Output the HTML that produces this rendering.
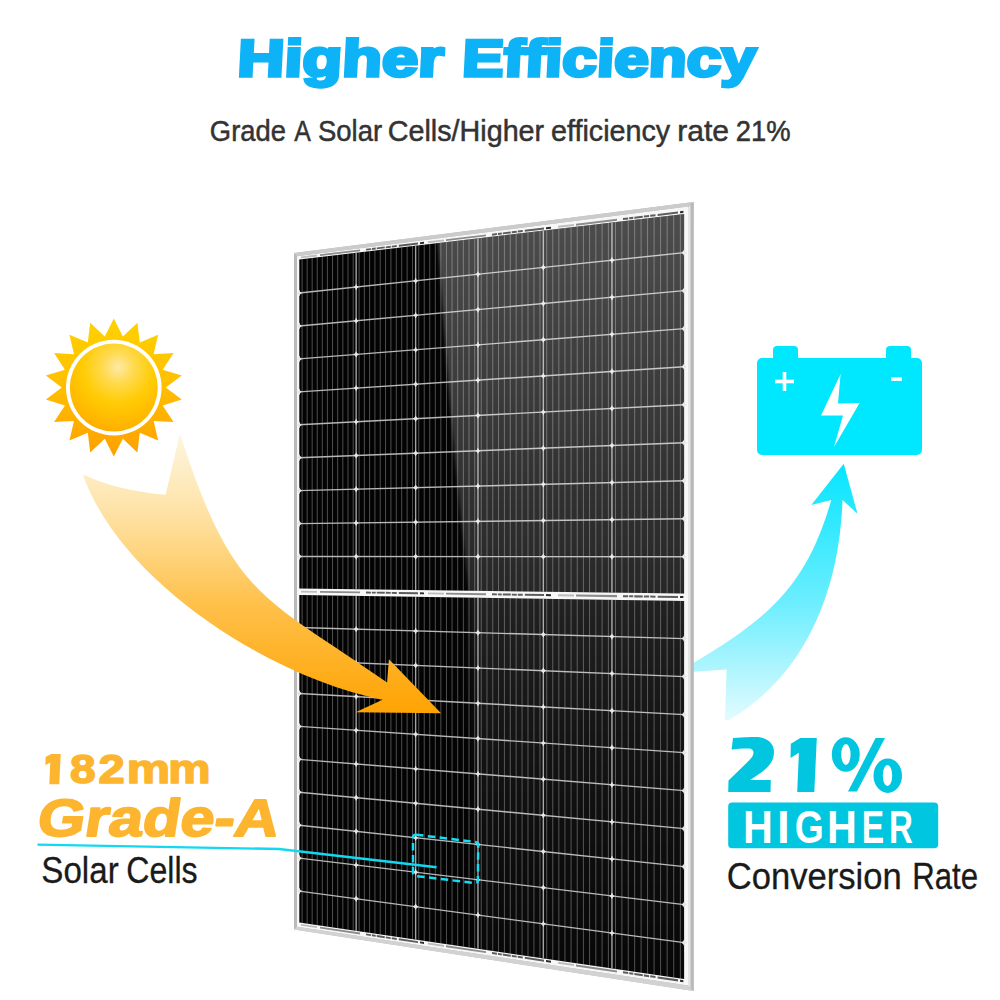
<!DOCTYPE html>
<html><head><meta charset="utf-8">
<style>
html,body{margin:0;padding:0;background:#fff;width:1000px;height:1000px;overflow:hidden}
svg{display:block}
text{font-family:"Liberation Sans",sans-serif}
</style></head><body>
<svg width="1000" height="1000" viewBox="0 0 1000 1000">
<defs>
<radialGradient id="sunDisc" cx="0.55" cy="0.27" r="0.8" fx="0.55" fy="0.27">
<stop offset="0" stop-color="#FDE9A6"/><stop offset="0.22" stop-color="#FFDA50"/><stop offset="0.5" stop-color="#FFCC05"/><stop offset="0.85" stop-color="#FFB400"/><stop offset="1" stop-color="#FFA000"/>
</radialGradient>
<linearGradient id="sunRay" x1="0" y1="0" x2="0" y2="1">
<stop offset="0" stop-color="#FFD200"/><stop offset="0.5" stop-color="#FFBE00"/><stop offset="1" stop-color="#FFA000"/>
</linearGradient>
<linearGradient id="orArrow" gradientUnits="userSpaceOnUse" x1="0" y1="436" x2="0" y2="712">
<stop offset="0" stop-color="#FDF5DE"/><stop offset="0.232" stop-color="#FEE6B0"/><stop offset="0.377" stop-color="#FED98C"/><stop offset="0.594" stop-color="#FEC24E"/><stop offset="0.957" stop-color="#FFA60A"/><stop offset="1" stop-color="#FFA405"/>
</linearGradient>
<linearGradient id="cyArrow" gradientUnits="userSpaceOnUse" x1="0" y1="464" x2="0" y2="720">
<stop offset="0" stop-color="#06E5FF"/><stop offset="0.55" stop-color="#6EEEFE"/><stop offset="1" stop-color="#E2FBFF"/>
</linearGradient>
</defs>

<text x="187.95" y="75.8" font-size="51.6" font-weight="bold" fill="#0DB3F6" stroke="#0DB3F6" stroke-width="3.4" stroke-linejoin="miter" transform="translate(0,75.8) skewX(-3) translate(0,-75.8) scale(1.2602,1)">Higher</text>
<text x="383.21" y="75.8" font-size="51.6" font-weight="bold" fill="#0DB3F6" stroke="#0DB3F6" stroke-width="3.4" stroke-linejoin="miter" transform="translate(0,75.8) skewX(-3) translate(0,-75.8) scale(1.2044,1)">Efficiency</text>
<text x="225.37" y="140.9" font-size="29.4" font-weight="normal" fill="#333333" stroke="#333333" stroke-width="0.5" stroke-linejoin="round" transform="scale(0.9312,1)">Grade</text>
<text x="347.6" y="140.9" font-size="29.4" font-weight="normal" fill="#333333" stroke="#333333" stroke-width="0.5" stroke-linejoin="round" transform="scale(0.8464,1)">A</text>
<text x="339.93" y="140.9" font-size="29.4" font-weight="normal" fill="#333333" stroke="#333333" stroke-width="0.5" stroke-linejoin="round" transform="scale(0.9355,1)">Solar</text>
<text x="396.93" y="140.9" font-size="29.4" font-weight="normal" fill="#333333" stroke="#333333" stroke-width="0.5" stroke-linejoin="round" transform="scale(0.9770,1)">Cells/Higher</text>
<text x="563.8" y="140.9" font-size="29.4" font-weight="normal" fill="#333333" stroke="#333333" stroke-width="0.5" stroke-linejoin="round" transform="scale(0.9773,1)">efficiency</text>
<text x="661.92" y="140.9" font-size="29.4" font-weight="normal" fill="#333333" stroke="#333333" stroke-width="0.5" stroke-linejoin="round" transform="scale(1.0232,1)">rate</text>
<text x="789.37" y="140.9" font-size="29.4" font-weight="normal" fill="#333333" stroke="#333333" stroke-width="0.5" stroke-linejoin="round" transform="scale(0.9322,1)">21%</text>
<!-- sun -->
<g id="sun"><polygon points="113.8,318.6 122.83,336.39 137.4,322.76 139.8,342.57 158.15,334.74 153.63,354.18 173.56,353.1 162.66,369.81 181.75,375.62 165.8,387.6 181.75,399.58 162.66,405.39 173.56,422.1 153.63,421.02 158.15,440.46 139.8,432.63 137.4,452.44 122.83,438.81 113.8,456.6 104.77,438.81 90.2,452.44 87.8,432.63 69.45,440.46 73.97,421.02 54.04,422.1 64.94,405.39 45.85,399.58 61.8,387.6 45.85,375.62 64.94,369.81 54.04,353.1 73.97,354.18 69.45,334.74 87.8,342.57 90.2,322.76 104.77,336.39" fill="url(#sunRay)"/><circle cx="113.8" cy="387.6" r="47.8" fill="#fff"/><circle cx="113.8" cy="387.6" r="44" fill="url(#sunDisc)"/></g>

<!-- cyan arrow (behind panel) -->
<path d="M690,664 L690,672 L726.6,669.6 L725,720 L728.8,720 C807.7,674.3 839.6,587.1 842.5,500 L857.5,513.75 L843.75,463.75 L811.25,505 L831.25,500 C806,588.4 766.8,618.9 690,665 Z" fill="url(#cyArrow)"/>

<!-- panel -->
<g id="panel">
<polygon points="294,253 693.6,202 693.6,991 294,929.5" fill="#bababa"/>
<polygon points="297,256.2 688,206.5 688,985.5 297,926.8" fill="#f7f7f7"/>
<polygon points="297,926.8 688,985.5 693.6,991 294,929.5" fill="#d2d2d2"/>
<polygon points="294,253 693.6,202 688,206.5 297,256.2" fill="#cbcbcb"/>
<polygon points="688,206.5 693.6,202 693.6,991 688,985.5" fill="#b9b9b9"/>
<polygon points="688,207 690.5,205 690.5,988 688,985.5" fill="#e4e4e4"/>
<polygon points="299.3,259.5 684.1,214 684.1,593.62 299.3,588.55" fill="#030303"/>
<polygon points="299.3,595.05 684.1,601.12 684.1,979 299.3,922.6" fill="#030303"/>
<defs><filter id="blur2" x="-0.1" y="-0.1" width="1.2" height="1.2"><feGaussianBlur stdDeviation="1.8"/></filter><clipPath id="cTop"><polygon points="299.3,259.5 684.1,214 684.1,593.62 299.3,588.55"/></clipPath><clipPath id="cBot"><polygon points="299.3,595.05 684.1,601.12 684.1,979 299.3,922.6"/></clipPath><filter id="blur5" x="-0.2" y="-0.1" width="1.4" height="1.2"><feGaussianBlur stdDeviation="5"/></filter><linearGradient id="gTop" gradientUnits="userSpaceOnUse" x1="0" y1="220" x2="0" y2="592"><stop offset="0" stop-color="#fff" stop-opacity="0.29"/><stop offset="0.55" stop-color="#fff" stop-opacity="0.21"/><stop offset="1" stop-color="#fff" stop-opacity="0.14"/></linearGradient><linearGradient id="gBot" gradientUnits="userSpaceOnUse" x1="0" y1="595" x2="0" y2="980"><stop offset="0" stop-color="#fff" stop-opacity="0.12"/><stop offset="0.35" stop-color="#fff" stop-opacity="0.07"/><stop offset="0.55" stop-color="#fff" stop-opacity="0.05"/><stop offset="1" stop-color="#fff" stop-opacity="0.015"/></linearGradient></defs>
<line x1="302.12" y1="259.17" x2="302.12" y2="588.59" stroke="#fff" stroke-opacity="0.3" stroke-width="1"/>
<line x1="302.12" y1="595.1" x2="302.12" y2="923.01" stroke="#fff" stroke-opacity="0.3" stroke-width="1"/>
<line x1="307.14" y1="258.57" x2="307.14" y2="588.65" stroke="#fff" stroke-opacity="0.3" stroke-width="1"/>
<line x1="307.14" y1="595.17" x2="307.14" y2="923.75" stroke="#fff" stroke-opacity="0.3" stroke-width="1"/>
<line x1="312.17" y1="257.98" x2="312.17" y2="588.72" stroke="#fff" stroke-opacity="0.3" stroke-width="1"/>
<line x1="312.17" y1="595.25" x2="312.17" y2="924.49" stroke="#fff" stroke-opacity="0.3" stroke-width="1"/>
<line x1="317.23" y1="257.38" x2="317.23" y2="588.79" stroke="#fff" stroke-opacity="0.3" stroke-width="1"/>
<line x1="317.23" y1="595.33" x2="317.23" y2="925.23" stroke="#fff" stroke-opacity="0.3" stroke-width="1"/>
<line x1="322.31" y1="256.78" x2="322.31" y2="588.85" stroke="#fff" stroke-opacity="0.3" stroke-width="1"/>
<line x1="322.31" y1="595.41" x2="322.31" y2="925.97" stroke="#fff" stroke-opacity="0.3" stroke-width="1"/>
<line x1="327.4" y1="256.18" x2="327.4" y2="588.92" stroke="#fff" stroke-opacity="0.3" stroke-width="1"/>
<line x1="327.4" y1="595.49" x2="327.4" y2="926.72" stroke="#fff" stroke-opacity="0.3" stroke-width="1"/>
<line x1="332.52" y1="255.57" x2="332.52" y2="588.99" stroke="#fff" stroke-opacity="0.3" stroke-width="1"/>
<line x1="332.52" y1="595.57" x2="332.52" y2="927.47" stroke="#fff" stroke-opacity="0.3" stroke-width="1"/>
<line x1="337.66" y1="254.96" x2="337.66" y2="589.05" stroke="#fff" stroke-opacity="0.3" stroke-width="1"/>
<line x1="337.66" y1="595.66" x2="337.66" y2="928.22" stroke="#fff" stroke-opacity="0.3" stroke-width="1"/>
<line x1="342.82" y1="254.35" x2="342.82" y2="589.12" stroke="#fff" stroke-opacity="0.3" stroke-width="1"/>
<line x1="342.82" y1="595.74" x2="342.82" y2="928.98" stroke="#fff" stroke-opacity="0.3" stroke-width="1"/>
<line x1="348" y1="253.74" x2="348" y2="589.19" stroke="#fff" stroke-opacity="0.3" stroke-width="1"/>
<line x1="348" y1="595.82" x2="348" y2="929.74" stroke="#fff" stroke-opacity="0.3" stroke-width="1"/>
<line x1="353.2" y1="253.13" x2="353.2" y2="589.26" stroke="#fff" stroke-opacity="0.3" stroke-width="1"/>
<line x1="353.2" y1="595.9" x2="353.2" y2="930.5" stroke="#fff" stroke-opacity="0.3" stroke-width="1"/>
<line x1="359.1" y1="252.43" x2="359.1" y2="589.34" stroke="#fff" stroke-opacity="0.3" stroke-width="1"/>
<line x1="359.1" y1="595.99" x2="359.1" y2="931.37" stroke="#fff" stroke-opacity="0.3" stroke-width="1"/>
<line x1="364.35" y1="251.81" x2="364.35" y2="589.41" stroke="#fff" stroke-opacity="0.3" stroke-width="1"/>
<line x1="364.35" y1="596.08" x2="364.35" y2="932.13" stroke="#fff" stroke-opacity="0.3" stroke-width="1"/>
<line x1="369.62" y1="251.19" x2="369.62" y2="589.48" stroke="#fff" stroke-opacity="0.3" stroke-width="1"/>
<line x1="369.62" y1="596.16" x2="369.62" y2="932.91" stroke="#fff" stroke-opacity="0.3" stroke-width="1"/>
<line x1="374.91" y1="250.56" x2="374.91" y2="589.54" stroke="#fff" stroke-opacity="0.3" stroke-width="1"/>
<line x1="374.91" y1="596.24" x2="374.91" y2="933.68" stroke="#fff" stroke-opacity="0.3" stroke-width="1"/>
<line x1="380.22" y1="249.93" x2="380.22" y2="589.61" stroke="#fff" stroke-opacity="0.3" stroke-width="1"/>
<line x1="380.22" y1="596.33" x2="380.22" y2="934.46" stroke="#fff" stroke-opacity="0.3" stroke-width="1"/>
<line x1="385.56" y1="249.3" x2="385.56" y2="589.69" stroke="#fff" stroke-opacity="0.3" stroke-width="1"/>
<line x1="385.56" y1="596.41" x2="385.56" y2="935.24" stroke="#fff" stroke-opacity="0.3" stroke-width="1"/>
<line x1="390.91" y1="248.67" x2="390.91" y2="589.76" stroke="#fff" stroke-opacity="0.3" stroke-width="1"/>
<line x1="390.91" y1="596.49" x2="390.91" y2="936.03" stroke="#fff" stroke-opacity="0.3" stroke-width="1"/>
<line x1="396.29" y1="248.03" x2="396.29" y2="589.83" stroke="#fff" stroke-opacity="0.3" stroke-width="1"/>
<line x1="396.29" y1="596.58" x2="396.29" y2="936.82" stroke="#fff" stroke-opacity="0.3" stroke-width="1"/>
<line x1="401.69" y1="247.39" x2="401.69" y2="589.9" stroke="#fff" stroke-opacity="0.3" stroke-width="1"/>
<line x1="401.69" y1="596.66" x2="401.69" y2="937.61" stroke="#fff" stroke-opacity="0.3" stroke-width="1"/>
<line x1="407.11" y1="246.75" x2="407.11" y2="589.97" stroke="#fff" stroke-opacity="0.3" stroke-width="1"/>
<line x1="407.11" y1="596.75" x2="407.11" y2="938.4" stroke="#fff" stroke-opacity="0.3" stroke-width="1"/>
<line x1="412.56" y1="246.11" x2="412.56" y2="590.04" stroke="#fff" stroke-opacity="0.3" stroke-width="1"/>
<line x1="412.56" y1="596.84" x2="412.56" y2="939.2" stroke="#fff" stroke-opacity="0.3" stroke-width="1"/>
<line x1="418.74" y1="245.38" x2="418.74" y2="590.12" stroke="#fff" stroke-opacity="0.3" stroke-width="1"/>
<line x1="418.74" y1="596.93" x2="418.74" y2="940.11" stroke="#fff" stroke-opacity="0.3" stroke-width="1"/>
<line x1="424.23" y1="244.73" x2="424.23" y2="590.19" stroke="#fff" stroke-opacity="0.3" stroke-width="1"/>
<line x1="424.23" y1="597.02" x2="424.23" y2="940.91" stroke="#fff" stroke-opacity="0.3" stroke-width="1"/>
<line x1="429.75" y1="244.08" x2="429.75" y2="590.27" stroke="#fff" stroke-opacity="0.3" stroke-width="1"/>
<line x1="429.75" y1="597.11" x2="429.75" y2="941.72" stroke="#fff" stroke-opacity="0.3" stroke-width="1"/>
<line x1="435.29" y1="243.42" x2="435.29" y2="590.34" stroke="#fff" stroke-opacity="0.3" stroke-width="1"/>
<line x1="435.29" y1="597.19" x2="435.29" y2="942.53" stroke="#fff" stroke-opacity="0.3" stroke-width="1"/>
<line x1="440.85" y1="242.76" x2="440.85" y2="590.41" stroke="#fff" stroke-opacity="0.3" stroke-width="1"/>
<line x1="440.85" y1="597.28" x2="440.85" y2="943.35" stroke="#fff" stroke-opacity="0.3" stroke-width="1"/>
<line x1="446.44" y1="242.1" x2="446.44" y2="590.49" stroke="#fff" stroke-opacity="0.3" stroke-width="1"/>
<line x1="446.44" y1="597.37" x2="446.44" y2="944.17" stroke="#fff" stroke-opacity="0.3" stroke-width="1"/>
<line x1="452.05" y1="241.44" x2="452.05" y2="590.56" stroke="#fff" stroke-opacity="0.3" stroke-width="1"/>
<line x1="452.05" y1="597.46" x2="452.05" y2="944.99" stroke="#fff" stroke-opacity="0.3" stroke-width="1"/>
<line x1="457.69" y1="240.77" x2="457.69" y2="590.63" stroke="#fff" stroke-opacity="0.3" stroke-width="1"/>
<line x1="457.69" y1="597.55" x2="457.69" y2="945.81" stroke="#fff" stroke-opacity="0.3" stroke-width="1"/>
<line x1="463.34" y1="240.1" x2="463.34" y2="590.71" stroke="#fff" stroke-opacity="0.3" stroke-width="1"/>
<line x1="463.34" y1="597.64" x2="463.34" y2="946.64" stroke="#fff" stroke-opacity="0.3" stroke-width="1"/>
<line x1="469.03" y1="239.43" x2="469.03" y2="590.78" stroke="#fff" stroke-opacity="0.3" stroke-width="1"/>
<line x1="469.03" y1="597.73" x2="469.03" y2="947.48" stroke="#fff" stroke-opacity="0.3" stroke-width="1"/>
<line x1="474.73" y1="238.76" x2="474.73" y2="590.86" stroke="#fff" stroke-opacity="0.3" stroke-width="1"/>
<line x1="474.73" y1="597.82" x2="474.73" y2="948.31" stroke="#fff" stroke-opacity="0.3" stroke-width="1"/>
<line x1="481.21" y1="237.99" x2="481.21" y2="590.94" stroke="#fff" stroke-opacity="0.3" stroke-width="1"/>
<line x1="481.21" y1="597.92" x2="481.21" y2="949.26" stroke="#fff" stroke-opacity="0.3" stroke-width="1"/>
<line x1="486.97" y1="237.31" x2="486.97" y2="591.02" stroke="#fff" stroke-opacity="0.3" stroke-width="1"/>
<line x1="486.97" y1="598.01" x2="486.97" y2="950.11" stroke="#fff" stroke-opacity="0.3" stroke-width="1"/>
<line x1="492.75" y1="236.63" x2="492.75" y2="591.1" stroke="#fff" stroke-opacity="0.3" stroke-width="1"/>
<line x1="492.75" y1="598.1" x2="492.75" y2="950.95" stroke="#fff" stroke-opacity="0.3" stroke-width="1"/>
<line x1="498.56" y1="235.94" x2="498.56" y2="591.17" stroke="#fff" stroke-opacity="0.3" stroke-width="1"/>
<line x1="498.56" y1="598.19" x2="498.56" y2="951.81" stroke="#fff" stroke-opacity="0.3" stroke-width="1"/>
<line x1="504.4" y1="235.25" x2="504.4" y2="591.25" stroke="#fff" stroke-opacity="0.3" stroke-width="1"/>
<line x1="504.4" y1="598.28" x2="504.4" y2="952.66" stroke="#fff" stroke-opacity="0.3" stroke-width="1"/>
<line x1="510.26" y1="234.56" x2="510.26" y2="591.33" stroke="#fff" stroke-opacity="0.3" stroke-width="1"/>
<line x1="510.26" y1="598.38" x2="510.26" y2="953.52" stroke="#fff" stroke-opacity="0.3" stroke-width="1"/>
<line x1="516.14" y1="233.86" x2="516.14" y2="591.4" stroke="#fff" stroke-opacity="0.3" stroke-width="1"/>
<line x1="516.14" y1="598.47" x2="516.14" y2="954.38" stroke="#fff" stroke-opacity="0.3" stroke-width="1"/>
<line x1="522.05" y1="233.16" x2="522.05" y2="591.48" stroke="#fff" stroke-opacity="0.3" stroke-width="1"/>
<line x1="522.05" y1="598.56" x2="522.05" y2="955.25" stroke="#fff" stroke-opacity="0.3" stroke-width="1"/>
<line x1="527.99" y1="232.46" x2="527.99" y2="591.56" stroke="#fff" stroke-opacity="0.3" stroke-width="1"/>
<line x1="527.99" y1="598.65" x2="527.99" y2="956.12" stroke="#fff" stroke-opacity="0.3" stroke-width="1"/>
<line x1="533.95" y1="231.75" x2="533.95" y2="591.64" stroke="#fff" stroke-opacity="0.3" stroke-width="1"/>
<line x1="533.95" y1="598.75" x2="533.95" y2="956.99" stroke="#fff" stroke-opacity="0.3" stroke-width="1"/>
<line x1="539.94" y1="231.05" x2="539.94" y2="591.72" stroke="#fff" stroke-opacity="0.3" stroke-width="1"/>
<line x1="539.94" y1="598.84" x2="539.94" y2="957.87" stroke="#fff" stroke-opacity="0.3" stroke-width="1"/>
<line x1="546.73" y1="230.24" x2="546.73" y2="591.81" stroke="#fff" stroke-opacity="0.3" stroke-width="1"/>
<line x1="546.73" y1="598.95" x2="546.73" y2="958.87" stroke="#fff" stroke-opacity="0.3" stroke-width="1"/>
<line x1="552.78" y1="229.53" x2="552.78" y2="591.89" stroke="#fff" stroke-opacity="0.3" stroke-width="1"/>
<line x1="552.78" y1="599.05" x2="552.78" y2="959.75" stroke="#fff" stroke-opacity="0.3" stroke-width="1"/>
<line x1="558.85" y1="228.81" x2="558.85" y2="591.97" stroke="#fff" stroke-opacity="0.3" stroke-width="1"/>
<line x1="558.85" y1="599.14" x2="558.85" y2="960.64" stroke="#fff" stroke-opacity="0.3" stroke-width="1"/>
<line x1="564.94" y1="228.09" x2="564.94" y2="592.05" stroke="#fff" stroke-opacity="0.3" stroke-width="1"/>
<line x1="564.94" y1="599.24" x2="564.94" y2="961.54" stroke="#fff" stroke-opacity="0.3" stroke-width="1"/>
<line x1="571.07" y1="227.37" x2="571.07" y2="592.13" stroke="#fff" stroke-opacity="0.3" stroke-width="1"/>
<line x1="571.07" y1="599.33" x2="571.07" y2="962.43" stroke="#fff" stroke-opacity="0.3" stroke-width="1"/>
<line x1="577.22" y1="226.64" x2="577.22" y2="592.21" stroke="#fff" stroke-opacity="0.3" stroke-width="1"/>
<line x1="577.22" y1="599.43" x2="577.22" y2="963.33" stroke="#fff" stroke-opacity="0.3" stroke-width="1"/>
<line x1="583.4" y1="225.91" x2="583.4" y2="592.29" stroke="#fff" stroke-opacity="0.3" stroke-width="1"/>
<line x1="583.4" y1="599.53" x2="583.4" y2="964.24" stroke="#fff" stroke-opacity="0.3" stroke-width="1"/>
<line x1="589.6" y1="225.17" x2="589.6" y2="592.37" stroke="#fff" stroke-opacity="0.3" stroke-width="1"/>
<line x1="589.6" y1="599.63" x2="589.6" y2="965.15" stroke="#fff" stroke-opacity="0.3" stroke-width="1"/>
<line x1="595.84" y1="224.44" x2="595.84" y2="592.45" stroke="#fff" stroke-opacity="0.3" stroke-width="1"/>
<line x1="595.84" y1="599.72" x2="595.84" y2="966.06" stroke="#fff" stroke-opacity="0.3" stroke-width="1"/>
<line x1="602.1" y1="223.7" x2="602.1" y2="592.54" stroke="#fff" stroke-opacity="0.3" stroke-width="1"/>
<line x1="602.1" y1="599.82" x2="602.1" y2="966.98" stroke="#fff" stroke-opacity="0.3" stroke-width="1"/>
<line x1="608.39" y1="222.95" x2="608.39" y2="592.62" stroke="#fff" stroke-opacity="0.3" stroke-width="1"/>
<line x1="608.39" y1="599.92" x2="608.39" y2="967.9" stroke="#fff" stroke-opacity="0.3" stroke-width="1"/>
<line x1="615.53" y1="222.11" x2="615.53" y2="592.71" stroke="#fff" stroke-opacity="0.3" stroke-width="1"/>
<line x1="615.53" y1="600.03" x2="615.53" y2="968.95" stroke="#fff" stroke-opacity="0.3" stroke-width="1"/>
<line x1="621.88" y1="221.36" x2="621.88" y2="592.8" stroke="#fff" stroke-opacity="0.3" stroke-width="1"/>
<line x1="621.88" y1="600.13" x2="621.88" y2="969.88" stroke="#fff" stroke-opacity="0.3" stroke-width="1"/>
<line x1="628.26" y1="220.6" x2="628.26" y2="592.88" stroke="#fff" stroke-opacity="0.3" stroke-width="1"/>
<line x1="628.26" y1="600.24" x2="628.26" y2="970.82" stroke="#fff" stroke-opacity="0.3" stroke-width="1"/>
<line x1="634.67" y1="219.85" x2="634.67" y2="592.96" stroke="#fff" stroke-opacity="0.3" stroke-width="1"/>
<line x1="634.67" y1="600.34" x2="634.67" y2="971.75" stroke="#fff" stroke-opacity="0.3" stroke-width="1"/>
<line x1="641.1" y1="219.08" x2="641.1" y2="593.05" stroke="#fff" stroke-opacity="0.3" stroke-width="1"/>
<line x1="641.1" y1="600.44" x2="641.1" y2="972.7" stroke="#fff" stroke-opacity="0.3" stroke-width="1"/>
<line x1="647.57" y1="218.32" x2="647.57" y2="593.13" stroke="#fff" stroke-opacity="0.3" stroke-width="1"/>
<line x1="647.57" y1="600.54" x2="647.57" y2="973.65" stroke="#fff" stroke-opacity="0.3" stroke-width="1"/>
<line x1="654.07" y1="217.55" x2="654.07" y2="593.22" stroke="#fff" stroke-opacity="0.3" stroke-width="1"/>
<line x1="654.07" y1="600.64" x2="654.07" y2="974.6" stroke="#fff" stroke-opacity="0.3" stroke-width="1"/>
<line x1="660.59" y1="216.78" x2="660.59" y2="593.31" stroke="#fff" stroke-opacity="0.3" stroke-width="1"/>
<line x1="660.59" y1="600.74" x2="660.59" y2="975.55" stroke="#fff" stroke-opacity="0.3" stroke-width="1"/>
<line x1="667.15" y1="216" x2="667.15" y2="593.39" stroke="#fff" stroke-opacity="0.3" stroke-width="1"/>
<line x1="667.15" y1="600.85" x2="667.15" y2="976.52" stroke="#fff" stroke-opacity="0.3" stroke-width="1"/>
<line x1="673.73" y1="215.23" x2="673.73" y2="593.48" stroke="#fff" stroke-opacity="0.3" stroke-width="1"/>
<line x1="673.73" y1="600.95" x2="673.73" y2="977.48" stroke="#fff" stroke-opacity="0.3" stroke-width="1"/>
<line x1="680.35" y1="214.44" x2="680.35" y2="593.57" stroke="#fff" stroke-opacity="0.3" stroke-width="1"/>
<line x1="680.35" y1="601.06" x2="680.35" y2="978.45" stroke="#fff" stroke-opacity="0.3" stroke-width="1"/>
<line x1="356.15" y1="252.78" x2="356.15" y2="589.3" stroke="#a4a4a4" stroke-width="1.4"/>
<line x1="356.15" y1="595.95" x2="356.15" y2="930.93" stroke="#a4a4a4" stroke-width="1.4"/>
<line x1="415.65" y1="245.74" x2="415.65" y2="590.08" stroke="#a4a4a4" stroke-width="1.4"/>
<line x1="415.65" y1="596.88" x2="415.65" y2="939.65" stroke="#a4a4a4" stroke-width="1.4"/>
<line x1="477.97" y1="238.37" x2="477.97" y2="590.9" stroke="#a4a4a4" stroke-width="1.4"/>
<line x1="477.97" y1="597.87" x2="477.97" y2="948.79" stroke="#a4a4a4" stroke-width="1.4"/>
<line x1="543.33" y1="230.64" x2="543.33" y2="591.76" stroke="#a4a4a4" stroke-width="1.4"/>
<line x1="543.33" y1="598.9" x2="543.33" y2="958.37" stroke="#a4a4a4" stroke-width="1.4"/>
<line x1="611.96" y1="222.53" x2="611.96" y2="592.67" stroke="#a4a4a4" stroke-width="1.4"/>
<line x1="611.96" y1="599.98" x2="611.96" y2="968.43" stroke="#a4a4a4" stroke-width="1.4"/>
<line x1="299.3" y1="293.01" x2="684.1" y2="252.65" stroke="#b8b8b8" stroke-width="1.4"/>
<path d="M299.3,289.65 Q299.9,292.41 302.1,293.01 Q299.9,293.61 299.3,296.37 Q298.7,293.61 296.5,293.01 Q298.7,292.41 299.3,289.65 Z" fill="#e6e6e6"/>
<path d="M356.15,283.68 Q356.75,286.44 358.95,287.04 Q356.75,287.64 356.15,290.4 Q355.55,287.64 353.35,287.04 Q355.55,286.44 356.15,283.68 Z" fill="#e6e6e6"/>
<path d="M415.65,277.44 Q416.25,280.2 418.45,280.8 Q416.25,281.4 415.65,284.16 Q415.05,281.4 412.85,280.8 Q415.05,280.2 415.65,277.44 Z" fill="#e6e6e6"/>
<path d="M477.97,270.91 Q478.57,273.67 480.77,274.27 Q478.57,274.87 477.97,277.63 Q477.37,274.87 475.17,274.27 Q477.37,273.67 477.97,270.91 Z" fill="#e6e6e6"/>
<path d="M543.33,264.06 Q543.93,266.82 546.13,267.42 Q543.93,268.02 543.33,270.78 Q542.73,268.02 540.53,267.42 Q542.73,266.82 543.33,264.06 Z" fill="#e6e6e6"/>
<path d="M611.96,256.86 Q612.56,259.62 614.76,260.22 Q612.56,260.82 611.96,263.58 Q611.36,260.82 609.16,260.22 Q611.36,259.62 611.96,256.86 Z" fill="#e6e6e6"/>
<path d="M684.1,249.29 Q684.7,252.05 686.9,252.65 Q684.7,253.25 684.1,256.01 Q683.5,253.25 681.3,252.65 Q683.5,252.05 684.1,249.29 Z" fill="#e6e6e6"/>
<line x1="299.3" y1="325.95" x2="684.1" y2="290.66" stroke="#b8b8b8" stroke-width="1.4"/>
<path d="M299.3,322.59 Q299.9,325.35 302.1,325.95 Q299.9,326.55 299.3,329.31 Q298.7,326.55 296.5,325.95 Q298.7,325.35 299.3,322.59 Z" fill="#e6e6e6"/>
<path d="M356.15,317.38 Q356.75,320.14 358.95,320.74 Q356.75,321.34 356.15,324.1 Q355.55,321.34 353.35,320.74 Q355.55,320.14 356.15,317.38 Z" fill="#e6e6e6"/>
<path d="M415.65,311.92 Q416.25,314.68 418.45,315.28 Q416.25,315.88 415.65,318.64 Q415.05,315.88 412.85,315.28 Q415.05,314.68 415.65,311.92 Z" fill="#e6e6e6"/>
<path d="M477.97,306.2 Q478.57,308.96 480.77,309.56 Q478.57,310.16 477.97,312.92 Q477.37,310.16 475.17,309.56 Q477.37,308.96 477.97,306.2 Z" fill="#e6e6e6"/>
<path d="M543.33,300.21 Q543.93,302.97 546.13,303.57 Q543.93,304.17 543.33,306.93 Q542.73,304.17 540.53,303.57 Q542.73,302.97 543.33,300.21 Z" fill="#e6e6e6"/>
<path d="M611.96,293.92 Q612.56,296.68 614.76,297.28 Q612.56,297.88 611.96,300.64 Q611.36,297.88 609.16,297.28 Q611.36,296.68 611.96,293.92 Z" fill="#e6e6e6"/>
<path d="M684.1,287.3 Q684.7,290.06 686.9,290.66 Q684.7,291.26 684.1,294.02 Q683.5,291.26 681.3,290.66 Q683.5,290.06 684.1,287.3 Z" fill="#e6e6e6"/>
<line x1="299.3" y1="358.89" x2="684.1" y2="328.67" stroke="#b8b8b8" stroke-width="1.4"/>
<path d="M299.3,355.53 Q299.9,358.29 302.1,358.89 Q299.9,359.49 299.3,362.25 Q298.7,359.49 296.5,358.89 Q298.7,358.29 299.3,355.53 Z" fill="#e6e6e6"/>
<path d="M356.15,351.07 Q356.75,353.83 358.95,354.43 Q356.75,355.03 356.15,357.79 Q355.55,355.03 353.35,354.43 Q355.55,353.83 356.15,351.07 Z" fill="#e6e6e6"/>
<path d="M415.65,346.4 Q416.25,349.16 418.45,349.76 Q416.25,350.36 415.65,353.12 Q415.05,350.36 412.85,349.76 Q415.05,349.16 415.65,346.4 Z" fill="#e6e6e6"/>
<path d="M477.97,341.5 Q478.57,344.26 480.77,344.86 Q478.57,345.46 477.97,348.22 Q477.37,345.46 475.17,344.86 Q477.37,344.26 477.97,341.5 Z" fill="#e6e6e6"/>
<path d="M543.33,336.37 Q543.93,339.13 546.13,339.73 Q543.93,340.33 543.33,343.09 Q542.73,340.33 540.53,339.73 Q542.73,339.13 543.33,336.37 Z" fill="#e6e6e6"/>
<path d="M611.96,330.98 Q612.56,333.74 614.76,334.34 Q612.56,334.94 611.96,337.7 Q611.36,334.94 609.16,334.34 Q611.36,333.74 611.96,330.98 Z" fill="#e6e6e6"/>
<path d="M684.1,325.31 Q684.7,328.07 686.9,328.67 Q684.7,329.27 684.1,332.03 Q683.5,329.27 681.3,328.67 Q683.5,328.07 684.1,325.31 Z" fill="#e6e6e6"/>
<line x1="299.3" y1="391.84" x2="684.1" y2="366.68" stroke="#b8b8b8" stroke-width="1.4"/>
<path d="M299.3,388.48 Q299.9,391.24 302.1,391.84 Q299.9,392.44 299.3,395.2 Q298.7,392.44 296.5,391.84 Q298.7,391.24 299.3,388.48 Z" fill="#e6e6e6"/>
<path d="M356.15,384.76 Q356.75,387.52 358.95,388.12 Q356.75,388.72 356.15,391.48 Q355.55,388.72 353.35,388.12 Q355.55,387.52 356.15,384.76 Z" fill="#e6e6e6"/>
<path d="M415.65,380.87 Q416.25,383.63 418.45,384.23 Q416.25,384.83 415.65,387.59 Q415.05,384.83 412.85,384.23 Q415.05,383.63 415.65,380.87 Z" fill="#e6e6e6"/>
<path d="M477.97,376.8 Q478.57,379.56 480.77,380.16 Q478.57,380.76 477.97,383.52 Q477.37,380.76 475.17,380.16 Q477.37,379.56 477.97,376.8 Z" fill="#e6e6e6"/>
<path d="M543.33,372.52 Q543.93,375.28 546.13,375.88 Q543.93,376.48 543.33,379.24 Q542.73,376.48 540.53,375.88 Q542.73,375.28 543.33,372.52 Z" fill="#e6e6e6"/>
<path d="M611.96,368.03 Q612.56,370.79 614.76,371.39 Q612.56,371.99 611.96,374.75 Q611.36,371.99 609.16,371.39 Q611.36,370.79 611.96,368.03 Z" fill="#e6e6e6"/>
<path d="M684.1,363.32 Q684.7,366.08 686.9,366.68 Q684.7,367.28 684.1,370.04 Q683.5,367.28 681.3,366.68 Q683.5,366.08 684.1,363.32 Z" fill="#e6e6e6"/>
<line x1="299.3" y1="424.78" x2="684.1" y2="404.68" stroke="#b8b8b8" stroke-width="1.4"/>
<path d="M299.3,421.42 Q299.9,424.18 302.1,424.78 Q299.9,425.38 299.3,428.14 Q298.7,425.38 296.5,424.78 Q298.7,424.18 299.3,421.42 Z" fill="#e6e6e6"/>
<path d="M356.15,418.46 Q356.75,421.22 358.95,421.82 Q356.75,422.42 356.15,425.18 Q355.55,422.42 353.35,421.82 Q355.55,421.22 356.15,418.46 Z" fill="#e6e6e6"/>
<path d="M415.65,415.35 Q416.25,418.11 418.45,418.71 Q416.25,419.31 415.65,422.07 Q415.05,419.31 412.85,418.71 Q415.05,418.11 415.65,415.35 Z" fill="#e6e6e6"/>
<path d="M477.97,412.09 Q478.57,414.85 480.77,415.45 Q478.57,416.05 477.97,418.81 Q477.37,416.05 475.17,415.45 Q477.37,414.85 477.97,412.09 Z" fill="#e6e6e6"/>
<path d="M543.33,408.68 Q543.93,411.44 546.13,412.04 Q543.93,412.64 543.33,415.4 Q542.73,412.64 540.53,412.04 Q542.73,411.44 543.33,408.68 Z" fill="#e6e6e6"/>
<path d="M611.96,405.09 Q612.56,407.85 614.76,408.45 Q612.56,409.05 611.96,411.81 Q611.36,409.05 609.16,408.45 Q611.36,407.85 611.96,405.09 Z" fill="#e6e6e6"/>
<path d="M684.1,401.32 Q684.7,404.08 686.9,404.68 Q684.7,405.28 684.1,408.04 Q683.5,405.28 681.3,404.68 Q683.5,404.08 684.1,401.32 Z" fill="#e6e6e6"/>
<line x1="299.3" y1="457.73" x2="684.1" y2="442.69" stroke="#b8b8b8" stroke-width="1.4"/>
<path d="M299.3,454.37 Q299.9,457.13 302.1,457.73 Q299.9,458.33 299.3,461.09 Q298.7,458.33 296.5,457.73 Q298.7,457.13 299.3,454.37 Z" fill="#e6e6e6"/>
<path d="M356.15,452.15 Q356.75,454.91 358.95,455.51 Q356.75,456.11 356.15,458.87 Q355.55,456.11 353.35,455.51 Q355.55,454.91 356.15,452.15 Z" fill="#e6e6e6"/>
<path d="M415.65,449.82 Q416.25,452.58 418.45,453.18 Q416.25,453.78 415.65,456.54 Q415.05,453.78 412.85,453.18 Q415.05,452.58 415.65,449.82 Z" fill="#e6e6e6"/>
<path d="M477.97,447.39 Q478.57,450.15 480.77,450.75 Q478.57,451.35 477.97,454.11 Q477.37,451.35 475.17,450.75 Q477.37,450.15 477.97,447.39 Z" fill="#e6e6e6"/>
<path d="M543.33,444.83 Q543.93,447.59 546.13,448.19 Q543.93,448.79 543.33,451.55 Q542.73,448.79 540.53,448.19 Q542.73,447.59 543.33,444.83 Z" fill="#e6e6e6"/>
<path d="M611.96,442.15 Q612.56,444.91 614.76,445.51 Q612.56,446.11 611.96,448.87 Q611.36,446.11 609.16,445.51 Q611.36,444.91 611.96,442.15 Z" fill="#e6e6e6"/>
<path d="M684.1,439.33 Q684.7,442.09 686.9,442.69 Q684.7,443.29 684.1,446.05 Q683.5,443.29 681.3,442.69 Q683.5,442.09 684.1,439.33 Z" fill="#e6e6e6"/>
<line x1="299.3" y1="490.67" x2="684.1" y2="480.7" stroke="#b8b8b8" stroke-width="1.4"/>
<path d="M299.3,487.31 Q299.9,490.07 302.1,490.67 Q299.9,491.27 299.3,494.03 Q298.7,491.27 296.5,490.67 Q298.7,490.07 299.3,487.31 Z" fill="#e6e6e6"/>
<path d="M356.15,485.84 Q356.75,488.6 358.95,489.2 Q356.75,489.8 356.15,492.56 Q355.55,489.8 353.35,489.2 Q355.55,488.6 356.15,485.84 Z" fill="#e6e6e6"/>
<path d="M415.65,484.3 Q416.25,487.06 418.45,487.66 Q416.25,488.26 415.65,491.02 Q415.05,488.26 412.85,487.66 Q415.05,487.06 415.65,484.3 Z" fill="#e6e6e6"/>
<path d="M477.97,482.68 Q478.57,485.44 480.77,486.04 Q478.57,486.64 477.97,489.4 Q477.37,486.64 475.17,486.04 Q477.37,485.44 477.97,482.68 Z" fill="#e6e6e6"/>
<path d="M543.33,480.99 Q543.93,483.75 546.13,484.35 Q543.93,484.95 543.33,487.71 Q542.73,484.95 540.53,484.35 Q542.73,483.75 543.33,480.99 Z" fill="#e6e6e6"/>
<path d="M611.96,479.21 Q612.56,481.97 614.76,482.57 Q612.56,483.17 611.96,485.93 Q611.36,483.17 609.16,482.57 Q611.36,481.97 611.96,479.21 Z" fill="#e6e6e6"/>
<path d="M684.1,477.34 Q684.7,480.1 686.9,480.7 Q684.7,481.3 684.1,484.06 Q683.5,481.3 681.3,480.7 Q683.5,480.1 684.1,477.34 Z" fill="#e6e6e6"/>
<line x1="299.3" y1="523.62" x2="684.1" y2="518.71" stroke="#b8b8b8" stroke-width="1.4"/>
<path d="M299.3,520.26 Q299.9,523.02 302.1,523.62 Q299.9,524.22 299.3,526.98 Q298.7,524.22 296.5,523.62 Q298.7,523.02 299.3,520.26 Z" fill="#e6e6e6"/>
<path d="M356.15,519.53 Q356.75,522.29 358.95,522.89 Q356.75,523.49 356.15,526.25 Q355.55,523.49 353.35,522.89 Q355.55,522.29 356.15,519.53 Z" fill="#e6e6e6"/>
<path d="M415.65,518.77 Q416.25,521.53 418.45,522.13 Q416.25,522.73 415.65,525.49 Q415.05,522.73 412.85,522.13 Q415.05,521.53 415.65,518.77 Z" fill="#e6e6e6"/>
<path d="M477.97,517.98 Q478.57,520.74 480.77,521.34 Q478.57,521.94 477.97,524.7 Q477.37,521.94 475.17,521.34 Q477.37,520.74 477.97,517.98 Z" fill="#e6e6e6"/>
<path d="M543.33,517.14 Q543.93,519.9 546.13,520.5 Q543.93,521.1 543.33,523.86 Q542.73,521.1 540.53,520.5 Q542.73,519.9 543.33,517.14 Z" fill="#e6e6e6"/>
<path d="M611.96,516.27 Q612.56,519.03 614.76,519.63 Q612.56,520.23 611.96,522.99 Q611.36,520.23 609.16,519.63 Q611.36,519.03 611.96,516.27 Z" fill="#e6e6e6"/>
<path d="M684.1,515.35 Q684.7,518.11 686.9,518.71 Q684.7,519.31 684.1,522.07 Q683.5,519.31 681.3,518.71 Q683.5,518.11 684.1,515.35 Z" fill="#e6e6e6"/>
<line x1="299.3" y1="556.56" x2="684.1" y2="556.72" stroke="#b8b8b8" stroke-width="1.4"/>
<path d="M299.3,553.2 Q299.9,555.96 302.1,556.56 Q299.9,557.16 299.3,559.92 Q298.7,557.16 296.5,556.56 Q298.7,555.96 299.3,553.2 Z" fill="#e6e6e6"/>
<path d="M356.15,553.23 Q356.75,555.99 358.95,556.59 Q356.75,557.19 356.15,559.95 Q355.55,557.19 353.35,556.59 Q355.55,555.99 356.15,553.23 Z" fill="#e6e6e6"/>
<path d="M415.65,553.25 Q416.25,556.01 418.45,556.61 Q416.25,557.21 415.65,559.97 Q415.05,557.21 412.85,556.61 Q415.05,556.01 415.65,553.25 Z" fill="#e6e6e6"/>
<path d="M477.97,553.27 Q478.57,556.03 480.77,556.63 Q478.57,557.23 477.97,559.99 Q477.37,557.23 475.17,556.63 Q477.37,556.03 477.97,553.27 Z" fill="#e6e6e6"/>
<path d="M543.33,553.3 Q543.93,556.06 546.13,556.66 Q543.93,557.26 543.33,560.02 Q542.73,557.26 540.53,556.66 Q542.73,556.06 543.33,553.3 Z" fill="#e6e6e6"/>
<path d="M611.96,553.33 Q612.56,556.09 614.76,556.69 Q612.56,557.29 611.96,560.05 Q611.36,557.29 609.16,556.69 Q611.36,556.09 611.96,553.33 Z" fill="#e6e6e6"/>
<path d="M684.1,553.36 Q684.7,556.12 686.9,556.72 Q684.7,557.32 684.1,560.08 Q683.5,557.32 681.3,556.72 Q683.5,556.12 684.1,553.36 Z" fill="#e6e6e6"/>
<line x1="299.3" y1="627.56" x2="684.1" y2="638.62" stroke="#b8b8b8" stroke-width="1.4"/>
<path d="M299.3,624.2 Q299.9,626.96 302.1,627.56 Q299.9,628.16 299.3,630.92 Q298.7,628.16 296.5,627.56 Q298.7,626.96 299.3,624.2 Z" fill="#e6e6e6"/>
<path d="M356.15,625.83 Q356.75,628.59 358.95,629.19 Q356.75,629.79 356.15,632.55 Q355.55,629.79 353.35,629.19 Q355.55,628.59 356.15,625.83 Z" fill="#e6e6e6"/>
<path d="M415.65,627.54 Q416.25,630.3 418.45,630.9 Q416.25,631.5 415.65,634.26 Q415.05,631.5 412.85,630.9 Q415.05,630.3 415.65,627.54 Z" fill="#e6e6e6"/>
<path d="M477.97,629.33 Q478.57,632.09 480.77,632.69 Q478.57,633.29 477.97,636.05 Q477.37,633.29 475.17,632.69 Q477.37,632.09 477.97,629.33 Z" fill="#e6e6e6"/>
<path d="M543.33,631.21 Q543.93,633.97 546.13,634.57 Q543.93,635.17 543.33,637.93 Q542.73,635.17 540.53,634.57 Q542.73,633.97 543.33,631.21 Z" fill="#e6e6e6"/>
<path d="M611.96,633.18 Q612.56,635.94 614.76,636.54 Q612.56,637.14 611.96,639.9 Q611.36,637.14 609.16,636.54 Q611.36,635.94 611.96,633.18 Z" fill="#e6e6e6"/>
<path d="M684.1,635.26 Q684.7,638.02 686.9,638.62 Q684.7,639.22 684.1,641.98 Q683.5,639.22 681.3,638.62 Q683.5,638.02 684.1,635.26 Z" fill="#e6e6e6"/>
<line x1="299.3" y1="660.5" x2="684.1" y2="676.62" stroke="#b8b8b8" stroke-width="1.4"/>
<path d="M299.3,657.14 Q299.9,659.9 302.1,660.5 Q299.9,661.1 299.3,663.86 Q298.7,661.1 296.5,660.5 Q298.7,659.9 299.3,657.14 Z" fill="#e6e6e6"/>
<path d="M356.15,659.52 Q356.75,662.28 358.95,662.88 Q356.75,663.48 356.15,666.24 Q355.55,663.48 353.35,662.88 Q355.55,662.28 356.15,659.52 Z" fill="#e6e6e6"/>
<path d="M415.65,662.02 Q416.25,664.78 418.45,665.38 Q416.25,665.98 415.65,668.74 Q415.05,665.98 412.85,665.38 Q415.05,664.78 415.65,662.02 Z" fill="#e6e6e6"/>
<path d="M477.97,664.63 Q478.57,667.39 480.77,667.99 Q478.57,668.59 477.97,671.35 Q477.37,668.59 475.17,667.99 Q477.37,667.39 477.97,664.63 Z" fill="#e6e6e6"/>
<path d="M543.33,667.37 Q543.93,670.13 546.13,670.73 Q543.93,671.33 543.33,674.09 Q542.73,671.33 540.53,670.73 Q542.73,670.13 543.33,667.37 Z" fill="#e6e6e6"/>
<path d="M611.96,670.24 Q612.56,673 614.76,673.6 Q612.56,674.2 611.96,676.96 Q611.36,674.2 609.16,673.6 Q611.36,673 611.96,670.24 Z" fill="#e6e6e6"/>
<path d="M684.1,673.26 Q684.7,676.02 686.9,676.62 Q684.7,677.22 684.1,679.98 Q683.5,677.22 681.3,676.62 Q683.5,676.02 684.1,673.26 Z" fill="#e6e6e6"/>
<line x1="299.3" y1="693.45" x2="684.1" y2="714.63" stroke="#b8b8b8" stroke-width="1.4"/>
<path d="M299.3,690.09 Q299.9,692.85 302.1,693.45 Q299.9,694.05 299.3,696.81 Q298.7,694.05 296.5,693.45 Q298.7,692.85 299.3,690.09 Z" fill="#e6e6e6"/>
<path d="M356.15,693.22 Q356.75,695.98 358.95,696.58 Q356.75,697.18 356.15,699.94 Q355.55,697.18 353.35,696.58 Q355.55,695.98 356.15,693.22 Z" fill="#e6e6e6"/>
<path d="M415.65,696.49 Q416.25,699.25 418.45,699.85 Q416.25,700.45 415.65,703.21 Q415.05,700.45 412.85,699.85 Q415.05,699.25 415.65,696.49 Z" fill="#e6e6e6"/>
<path d="M477.97,699.92 Q478.57,702.68 480.77,703.28 Q478.57,703.88 477.97,706.64 Q477.37,703.88 475.17,703.28 Q477.37,702.68 477.97,699.92 Z" fill="#e6e6e6"/>
<path d="M543.33,703.52 Q543.93,706.28 546.13,706.88 Q543.93,707.48 543.33,710.24 Q542.73,707.48 540.53,706.88 Q542.73,706.28 543.33,703.52 Z" fill="#e6e6e6"/>
<path d="M611.96,707.3 Q612.56,710.06 614.76,710.66 Q612.56,711.26 611.96,714.02 Q611.36,711.26 609.16,710.66 Q611.36,710.06 611.96,707.3 Z" fill="#e6e6e6"/>
<path d="M684.1,711.27 Q684.7,714.03 686.9,714.63 Q684.7,715.23 684.1,717.99 Q683.5,715.23 681.3,714.63 Q683.5,714.03 684.1,711.27 Z" fill="#e6e6e6"/>
<line x1="299.3" y1="726.39" x2="684.1" y2="752.64" stroke="#b8b8b8" stroke-width="1.4"/>
<path d="M299.3,723.03 Q299.9,725.79 302.1,726.39 Q299.9,726.99 299.3,729.75 Q298.7,726.99 296.5,726.39 Q298.7,725.79 299.3,723.03 Z" fill="#e6e6e6"/>
<path d="M356.15,726.91 Q356.75,729.67 358.95,730.27 Q356.75,730.87 356.15,733.63 Q355.55,730.87 353.35,730.27 Q355.55,729.67 356.15,726.91 Z" fill="#e6e6e6"/>
<path d="M415.65,730.97 Q416.25,733.73 418.45,734.33 Q416.25,734.93 415.65,737.69 Q415.05,734.93 412.85,734.33 Q415.05,733.73 415.65,730.97 Z" fill="#e6e6e6"/>
<path d="M477.97,735.22 Q478.57,737.98 480.77,738.58 Q478.57,739.18 477.97,741.94 Q477.37,739.18 475.17,738.58 Q477.37,737.98 477.97,735.22 Z" fill="#e6e6e6"/>
<path d="M543.33,739.68 Q543.93,742.44 546.13,743.04 Q543.93,743.64 543.33,746.4 Q542.73,743.64 540.53,743.04 Q542.73,742.44 543.33,739.68 Z" fill="#e6e6e6"/>
<path d="M611.96,744.36 Q612.56,747.12 614.76,747.72 Q612.56,748.32 611.96,751.08 Q611.36,748.32 609.16,747.72 Q611.36,747.12 611.96,744.36 Z" fill="#e6e6e6"/>
<path d="M684.1,749.28 Q684.7,752.04 686.9,752.64 Q684.7,753.24 684.1,756 Q683.5,753.24 681.3,752.64 Q683.5,752.04 684.1,749.28 Z" fill="#e6e6e6"/>
<line x1="299.3" y1="759.34" x2="684.1" y2="790.65" stroke="#b8b8b8" stroke-width="1.4"/>
<path d="M299.3,755.98 Q299.9,758.74 302.1,759.34 Q299.9,759.94 299.3,762.7 Q298.7,759.94 296.5,759.34 Q298.7,758.74 299.3,755.98 Z" fill="#e6e6e6"/>
<path d="M356.15,760.6 Q356.75,763.36 358.95,763.96 Q356.75,764.56 356.15,767.32 Q355.55,764.56 353.35,763.96 Q355.55,763.36 356.15,760.6 Z" fill="#e6e6e6"/>
<path d="M415.65,765.44 Q416.25,768.2 418.45,768.8 Q416.25,769.4 415.65,772.16 Q415.05,769.4 412.85,768.8 Q415.05,768.2 415.65,765.44 Z" fill="#e6e6e6"/>
<path d="M477.97,770.51 Q478.57,773.27 480.77,773.87 Q478.57,774.47 477.97,777.23 Q477.37,774.47 475.17,773.87 Q477.37,773.27 477.97,770.51 Z" fill="#e6e6e6"/>
<path d="M543.33,775.83 Q543.93,778.59 546.13,779.19 Q543.93,779.79 543.33,782.55 Q542.73,779.79 540.53,779.19 Q542.73,778.59 543.33,775.83 Z" fill="#e6e6e6"/>
<path d="M611.96,781.42 Q612.56,784.18 614.76,784.78 Q612.56,785.38 611.96,788.14 Q611.36,785.38 609.16,784.78 Q611.36,784.18 611.96,781.42 Z" fill="#e6e6e6"/>
<path d="M684.1,787.29 Q684.7,790.05 686.9,790.65 Q684.7,791.25 684.1,794.01 Q683.5,791.25 681.3,790.65 Q683.5,790.05 684.1,787.29 Z" fill="#e6e6e6"/>
<line x1="299.3" y1="792.28" x2="684.1" y2="828.65" stroke="#b8b8b8" stroke-width="1.4"/>
<path d="M299.3,788.92 Q299.9,791.68 302.1,792.28 Q299.9,792.88 299.3,795.64 Q298.7,792.88 296.5,792.28 Q298.7,791.68 299.3,788.92 Z" fill="#e6e6e6"/>
<path d="M356.15,794.29 Q356.75,797.05 358.95,797.65 Q356.75,798.25 356.15,801.01 Q355.55,798.25 353.35,797.65 Q355.55,797.05 356.15,794.29 Z" fill="#e6e6e6"/>
<path d="M415.65,799.92 Q416.25,802.68 418.45,803.28 Q416.25,803.88 415.65,806.64 Q415.05,803.88 412.85,803.28 Q415.05,802.68 415.65,799.92 Z" fill="#e6e6e6"/>
<path d="M477.97,805.81 Q478.57,808.57 480.77,809.17 Q478.57,809.77 477.97,812.53 Q477.37,809.77 475.17,809.17 Q477.37,808.57 477.97,805.81 Z" fill="#e6e6e6"/>
<path d="M543.33,811.99 Q543.93,814.75 546.13,815.35 Q543.93,815.95 543.33,818.71 Q542.73,815.95 540.53,815.35 Q542.73,814.75 543.33,811.99 Z" fill="#e6e6e6"/>
<path d="M611.96,818.47 Q612.56,821.23 614.76,821.83 Q612.56,822.43 611.96,825.19 Q611.36,822.43 609.16,821.83 Q611.36,821.23 611.96,818.47 Z" fill="#e6e6e6"/>
<path d="M684.1,825.29 Q684.7,828.05 686.9,828.65 Q684.7,829.25 684.1,832.01 Q683.5,829.25 681.3,828.65 Q683.5,828.05 684.1,825.29 Z" fill="#e6e6e6"/>
<line x1="299.3" y1="825.23" x2="684.1" y2="866.66" stroke="#b8b8b8" stroke-width="1.4"/>
<path d="M299.3,821.87 Q299.9,824.63 302.1,825.23 Q299.9,825.83 299.3,828.59 Q298.7,825.83 296.5,825.23 Q298.7,824.63 299.3,821.87 Z" fill="#e6e6e6"/>
<path d="M356.15,827.99 Q356.75,830.75 358.95,831.35 Q356.75,831.95 356.15,834.71 Q355.55,831.95 353.35,831.35 Q355.55,830.75 356.15,827.99 Z" fill="#e6e6e6"/>
<path d="M415.65,834.39 Q416.25,837.15 418.45,837.75 Q416.25,838.35 415.65,841.11 Q415.05,838.35 412.85,837.75 Q415.05,837.15 415.65,834.39 Z" fill="#e6e6e6"/>
<path d="M477.97,841.11 Q478.57,843.87 480.77,844.47 Q478.57,845.07 477.97,847.83 Q477.37,845.07 475.17,844.47 Q477.37,843.87 477.97,841.11 Z" fill="#e6e6e6"/>
<path d="M543.33,848.14 Q543.93,850.9 546.13,851.5 Q543.93,852.1 543.33,854.86 Q542.73,852.1 540.53,851.5 Q542.73,850.9 543.33,848.14 Z" fill="#e6e6e6"/>
<path d="M611.96,855.53 Q612.56,858.29 614.76,858.89 Q612.56,859.49 611.96,862.25 Q611.36,859.49 609.16,858.89 Q611.36,858.29 611.96,855.53 Z" fill="#e6e6e6"/>
<path d="M684.1,863.3 Q684.7,866.06 686.9,866.66 Q684.7,867.26 684.1,870.02 Q683.5,867.26 681.3,866.66 Q683.5,866.06 684.1,863.3 Z" fill="#e6e6e6"/>
<line x1="299.3" y1="858.17" x2="684.1" y2="904.67" stroke="#b8b8b8" stroke-width="1.4"/>
<path d="M299.3,854.81 Q299.9,857.57 302.1,858.17 Q299.9,858.77 299.3,861.53 Q298.7,858.77 296.5,858.17 Q298.7,857.57 299.3,854.81 Z" fill="#e6e6e6"/>
<path d="M356.15,861.68 Q356.75,864.44 358.95,865.04 Q356.75,865.64 356.15,868.4 Q355.55,865.64 353.35,865.04 Q355.55,864.44 356.15,861.68 Z" fill="#e6e6e6"/>
<path d="M415.65,868.87 Q416.25,871.63 418.45,872.23 Q416.25,872.83 415.65,875.59 Q415.05,872.83 412.85,872.23 Q415.05,871.63 415.65,868.87 Z" fill="#e6e6e6"/>
<path d="M477.97,876.4 Q478.57,879.16 480.77,879.76 Q478.57,880.36 477.97,883.12 Q477.37,880.36 475.17,879.76 Q477.37,879.16 477.97,876.4 Z" fill="#e6e6e6"/>
<path d="M543.33,884.3 Q543.93,887.06 546.13,887.66 Q543.93,888.26 543.33,891.02 Q542.73,888.26 540.53,887.66 Q542.73,887.06 543.33,884.3 Z" fill="#e6e6e6"/>
<path d="M611.96,892.59 Q612.56,895.35 614.76,895.95 Q612.56,896.55 611.96,899.31 Q611.36,896.55 609.16,895.95 Q611.36,895.35 611.96,892.59 Z" fill="#e6e6e6"/>
<path d="M684.1,901.31 Q684.7,904.07 686.9,904.67 Q684.7,905.27 684.1,908.03 Q683.5,905.27 681.3,904.67 Q683.5,904.07 684.1,901.31 Z" fill="#e6e6e6"/>
<line x1="299.3" y1="891.12" x2="684.1" y2="942.68" stroke="#b8b8b8" stroke-width="1.4"/>
<path d="M299.3,887.76 Q299.9,890.52 302.1,891.12 Q299.9,891.72 299.3,894.48 Q298.7,891.72 296.5,891.12 Q298.7,890.52 299.3,887.76 Z" fill="#e6e6e6"/>
<path d="M356.15,895.37 Q356.75,898.13 358.95,898.73 Q356.75,899.33 356.15,902.09 Q355.55,899.33 353.35,898.73 Q355.55,898.13 356.15,895.37 Z" fill="#e6e6e6"/>
<path d="M415.65,903.35 Q416.25,906.11 418.45,906.71 Q416.25,907.31 415.65,910.07 Q415.05,907.31 412.85,906.71 Q415.05,906.11 415.65,903.35 Z" fill="#e6e6e6"/>
<path d="M477.97,911.7 Q478.57,914.46 480.77,915.06 Q478.57,915.66 477.97,918.42 Q477.37,915.66 475.17,915.06 Q477.37,914.46 477.97,911.7 Z" fill="#e6e6e6"/>
<path d="M543.33,920.45 Q543.93,923.21 546.13,923.81 Q543.93,924.41 543.33,927.17 Q542.73,924.41 540.53,923.81 Q542.73,923.21 543.33,920.45 Z" fill="#e6e6e6"/>
<path d="M611.96,929.65 Q612.56,932.41 614.76,933.01 Q612.56,933.61 611.96,936.37 Q611.36,933.61 609.16,933.01 Q611.36,932.41 611.96,929.65 Z" fill="#e6e6e6"/>
<path d="M684.1,939.32 Q684.7,942.08 686.9,942.68 Q684.7,943.28 684.1,946.04 Q683.5,943.28 681.3,942.68 Q683.5,942.08 684.1,939.32 Z" fill="#e6e6e6"/>
<path clip-path="url(#cTop)" d="M436,200 C441,300 452,450 470,600 L700,600 L700,200 Z" fill="url(#gTop)" filter="url(#blur2)"/>
<path clip-path="url(#cBot)" d="M470,585 C474,700 476,800 478,1000 L700,1000 L700,585 Z" fill="url(#gBot)" filter="url(#blur5)"/>
<polygon points="301.02,256.49 316.99,254.59 316.99,256.4 301.02,258.3" fill="#bdbdbd"/>
<polygon points="319.98,254.23 360,249.45 360,251.3 319.98,256.05" fill="#8c8c8c"/>
<polygon points="366.02,248.74 370.92,248.15 370.92,250 366.02,250.58" fill="#5c5c5c"/>
<polygon points="371.89,248.03 375.74,247.58 375.74,249.43 371.89,249.89" fill="#5c5c5c"/>
<polygon points="376.77,247.45 384.76,246.5 384.76,248.36 376.77,249.31" fill="#5c5c5c"/>
<polygon points="385.79,246.38 390.72,245.79 390.72,247.65 385.79,248.24" fill="#5c5c5c"/>
<polygon points="391.76,245.66 396.76,245.07 396.76,246.94 391.76,247.53" fill="#5c5c5c"/>
<polygon points="398.8,244.82 418.02,242.53 418.02,244.41 398.8,246.7" fill="#5c5c5c"/>
<polygon points="419.98,242.3 424.01,241.81 424.01,243.7 419.98,244.18" fill="#2a2a2a"/>
<polygon points="428,241.34 444.02,239.43 444.02,241.33 428,243.23" fill="#bdbdbd"/>
<polygon points="446.01,239.19 485.97,234.42 485.97,236.35 446.01,241.09" fill="#8c8c8c"/>
<polygon points="492.02,233.7 496.92,233.11 496.92,235.05 492.02,235.64" fill="#5c5c5c"/>
<polygon points="497.9,232.99 501.74,232.54 501.74,234.48 497.9,234.94" fill="#5c5c5c"/>
<polygon points="502.77,232.41 510.76,231.46 510.76,233.41 502.77,234.36" fill="#5c5c5c"/>
<polygon points="511.8,231.34 516.72,230.75 516.72,232.7 511.8,233.29" fill="#5c5c5c"/>
<polygon points="517.76,230.62 522.76,230.03 522.76,231.99 517.76,232.58" fill="#5c5c5c"/>
<polygon points="524.8,229.78 544,227.49 544,229.47 524.8,231.75" fill="#5c5c5c"/>
<polygon points="546.01,227.25 550.99,226.66 550.99,228.64 546.01,229.23" fill="#2a2a2a"/>
<polygon points="558.01,225.82 574,223.91 574,225.91 558.01,227.81" fill="#bdbdbd"/>
<polygon points="575.99,223.67 617.03,218.77 617.03,220.8 575.99,225.67" fill="#8c8c8c"/>
<polygon points="622.97,218.07 628.16,217.45 628.16,219.48 622.97,220.1" fill="#5c5c5c"/>
<polygon points="629.19,217.32 633.26,216.84 633.26,218.88 629.19,219.36" fill="#5c5c5c"/>
<polygon points="634.35,216.71 642.8,215.7 642.8,217.75 634.35,218.75" fill="#5c5c5c"/>
<polygon points="643.9,215.57 649.11,214.95 649.11,217 643.9,217.62" fill="#5c5c5c"/>
<polygon points="650.21,214.81 655.5,214.18 655.5,216.24 650.21,216.87" fill="#5c5c5c"/>
<polygon points="657.65,213.93 677.97,211.5 677.97,213.57 657.65,215.98" fill="#5c5c5c"/>
<polygon points="680.04,211.25 683.36,210.86 683.36,212.93 680.04,213.33" fill="#2a2a2a"/>
<polygon points="301.02,590.67 316.99,590.9 316.99,592.71 301.02,592.48" fill="#bdbdbd"/>
<polygon points="319.98,590.94 360,591.5 360,593.34 319.98,592.75" fill="#8c8c8c"/>
<polygon points="366.02,591.58 370.92,591.65 370.92,593.5 366.02,593.43" fill="#5c5c5c"/>
<polygon points="371.89,591.67 375.74,591.72 375.74,593.58 371.89,593.52" fill="#5c5c5c"/>
<polygon points="376.77,591.73 384.76,591.85 384.76,593.71 376.77,593.59" fill="#5c5c5c"/>
<polygon points="385.79,591.86 390.72,591.93 390.72,593.8 385.79,593.72" fill="#5c5c5c"/>
<polygon points="391.76,591.94 396.76,592.01 396.76,593.89 391.76,593.81" fill="#5c5c5c"/>
<polygon points="398.8,592.04 418.02,592.31 418.02,594.2 398.8,593.92" fill="#5c5c5c"/>
<polygon points="419.98,592.34 424.01,592.4 424.01,594.29 419.98,594.23" fill="#2a2a2a"/>
<polygon points="428,592.45 444.02,592.68 444.02,594.58 428,594.35" fill="#bdbdbd"/>
<polygon points="446.01,592.7 485.97,593.26 485.97,595.2 446.01,594.61" fill="#8c8c8c"/>
<polygon points="492.02,593.35 496.92,593.42 496.92,595.36 492.02,595.29" fill="#5c5c5c"/>
<polygon points="497.9,593.43 501.74,593.48 501.74,595.43 497.9,595.37" fill="#5c5c5c"/>
<polygon points="502.77,593.5 510.76,593.61 510.76,595.56 502.77,595.45" fill="#5c5c5c"/>
<polygon points="511.8,593.63 516.72,593.69 516.72,595.65 511.8,595.58" fill="#5c5c5c"/>
<polygon points="517.76,593.71 522.76,593.78 522.76,595.74 517.76,595.67" fill="#5c5c5c"/>
<polygon points="524.8,593.81 544,594.08 544,596.05 524.8,595.77" fill="#5c5c5c"/>
<polygon points="546.01,594.1 550.99,594.17 550.99,596.16 546.01,596.08" fill="#2a2a2a"/>
<polygon points="558.01,594.27 574,594.5 574,596.49 558.01,596.26" fill="#bdbdbd"/>
<polygon points="575.99,594.52 617.03,595.1 617.03,597.13 575.99,596.52" fill="#8c8c8c"/>
<polygon points="622.97,595.18 628.16,595.26 628.16,597.29 622.97,597.22" fill="#5c5c5c"/>
<polygon points="629.19,595.27 633.26,595.33 633.26,597.37 629.19,597.31" fill="#5c5c5c"/>
<polygon points="634.35,595.34 642.8,595.46 642.8,597.51 634.35,597.38" fill="#5c5c5c"/>
<polygon points="643.9,595.48 649.11,595.55 649.11,597.6 643.9,597.52" fill="#5c5c5c"/>
<polygon points="650.21,595.56 655.5,595.64 655.5,597.69 650.21,597.62" fill="#5c5c5c"/>
<polygon points="657.65,595.67 677.97,595.95 677.97,598.03 657.65,597.73" fill="#5c5c5c"/>
<polygon points="680.04,595.98 683.36,596.03 683.36,598.1 680.04,598.06" fill="#2a2a2a"/>
<polygon points="301.02,923.95 316.99,926.3 316.99,928.11 301.02,925.76" fill="#bdbdbd"/>
<polygon points="319.98,926.74 360,932.62 360,934.47 319.98,928.56" fill="#8c8c8c"/>
<polygon points="366.02,933.51 370.92,934.23 370.92,936.08 366.02,935.36" fill="#5c5c5c"/>
<polygon points="371.89,934.37 375.74,934.94 375.74,936.79 371.89,936.22" fill="#5c5c5c"/>
<polygon points="376.77,935.09 384.76,936.26 384.76,938.13 376.77,936.94" fill="#5c5c5c"/>
<polygon points="385.79,936.42 390.72,937.14 390.72,939.01 385.79,938.28" fill="#5c5c5c"/>
<polygon points="391.76,937.29 396.76,938.03 396.76,939.9 391.76,939.16" fill="#5c5c5c"/>
<polygon points="398.8,938.33 418.02,941.15 418.02,943.04 398.8,940.2" fill="#5c5c5c"/>
<polygon points="419.98,941.44 424.01,942.03 424.01,943.92 419.98,943.33" fill="#2a2a2a"/>
<polygon points="428,942.62 444.02,944.97 444.02,946.88 428,944.51" fill="#bdbdbd"/>
<polygon points="446.01,945.27 485.97,951.14 485.97,953.08 446.01,947.17" fill="#8c8c8c"/>
<polygon points="492.02,952.03 496.92,952.75 496.92,954.69 492.02,953.97" fill="#5c5c5c"/>
<polygon points="497.9,952.9 501.74,953.46 501.74,955.41 497.9,954.84" fill="#5c5c5c"/>
<polygon points="502.77,953.61 510.76,954.79 510.76,956.74 502.77,955.56" fill="#5c5c5c"/>
<polygon points="511.8,954.94 516.72,955.66 516.72,957.62 511.8,956.89" fill="#5c5c5c"/>
<polygon points="517.76,955.82 522.76,956.55 522.76,958.51 517.76,957.77" fill="#5c5c5c"/>
<polygon points="524.8,956.85 544,959.67 544,961.65 524.8,958.81" fill="#5c5c5c"/>
<polygon points="546.01,959.97 550.99,960.7 550.99,962.68 546.01,961.95" fill="#2a2a2a"/>
<polygon points="558.01,961.73 574,964.08 574,966.08 558.01,963.72" fill="#bdbdbd"/>
<polygon points="575.99,964.38 617.03,970.41 617.03,972.44 575.99,966.38" fill="#8c8c8c"/>
<polygon points="622.97,971.28 628.16,972.05 628.16,974.08 622.97,973.32" fill="#5c5c5c"/>
<polygon points="629.19,972.2 633.26,972.8 633.26,974.84 629.19,974.23" fill="#5c5c5c"/>
<polygon points="634.35,972.96 642.8,974.2 642.8,976.25 634.35,975" fill="#5c5c5c"/>
<polygon points="643.9,974.36 649.11,975.13 649.11,977.18 643.9,976.41" fill="#5c5c5c"/>
<polygon points="650.21,975.29 655.5,976.06 655.5,978.12 650.21,977.34" fill="#5c5c5c"/>
<polygon points="657.65,976.38 677.97,979.37 677.97,981.44 657.65,978.44" fill="#5c5c5c"/>
<polygon points="680.04,979.67 683.36,980.16 683.36,982.24 680.04,981.75" fill="#2a2a2a"/>
</g>

<!-- orange arrow -->
<path d="M180,433.6 C232.9,599.9 264.6,596.3 387.1,682.6 L388.9,659.2 L441.1,713.2 L355.6,712.3 L382.6,699.7 C272.1,677.9 121,583.3 82.8,474.4 C105,485 135,492 165.6,494.8 Z" fill="url(#orArrow)"/>

<!-- battery -->
<g fill="#00E8FF">
<rect x="773" y="346" width="25" height="18" rx="4"/>
<rect x="886" y="346" width="25" height="18" rx="4"/>
<rect x="757" y="358" width="165" height="97" rx="5"/>
</g>
<g fill="#fff">
<rect x="775" y="379.7" width="19" height="3.6"/>
<rect x="782.7" y="372" width="3.6" height="19"/>
<rect x="891" y="377.3" width="11" height="3.6"/>
<polygon points="840.6,374 821,415.6 843,415.6 834,447 859.6,403 838,403.6"/>
</g>

<polygon fill="#FDB530" points="51.1,754 60.7,754 59.25,784.2 49.3,784.2 50.3,762.2 45.4,765.2 45.6,757.1"/><text x="62.36" y="783.4" font-size="41" font-weight="bold" fill="#FDB530" stroke="#FDB530" stroke-width="1.6" stroke-linejoin="round" transform="scale(1.1216,1)">8</text>
<text x="85.71" y="783.4" font-size="41" font-weight="bold" fill="#FDB530" stroke="#FDB530" stroke-width="1.6" stroke-linejoin="round" transform="scale(1.1500,1)">2</text>
<text x="106.58" y="783.4" font-size="41" font-weight="bold" fill="#FDB530" stroke="#FDB530" stroke-width="1.6" stroke-linejoin="round" transform="scale(1.1887,1)">m</text>
<text x="144.99" y="783.4" font-size="41" font-weight="bold" fill="#FDB530" stroke="#FDB530" stroke-width="1.6" stroke-linejoin="round" transform="scale(1.1599,1)">m</text>
<text x="30.38" y="836.2" font-size="52.5" font-weight="bold" fill="#FDB530" stroke="#FDB530" stroke-width="1.8" stroke-linejoin="round" transform="translate(0,836.2) skewX(-9) translate(0,-836.2) scale(1.1651,1)">Grade-A</text>
<text x="45.42" y="883.2" font-size="36.4" font-weight="normal" fill="#1a1a1a" stroke="#1a1a1a" stroke-width="0.3" stroke-linejoin="round" transform="scale(0.9103,1)">Solar</text>
<text x="143.04" y="883.2" font-size="36.4" font-weight="normal" fill="#1a1a1a" stroke="#1a1a1a" stroke-width="0.3" stroke-linejoin="round" transform="scale(0.8824,1)">Cells</text>
<polyline points="37.5,844.6 279,849 436.6,867.2" fill="none" stroke="#12D8F0" stroke-width="2.4"/>
<path d="M416,834.7 L475,841.9 Q478.2,842.3 478.2,845.5 L477.9,880 Q477.9,883.4 474.6,883 L416,876 Q413,875.6 413,872.6 L413,837.6 Q413,834.4 416,834.7 Z" fill="none" stroke="#12DDF4" stroke-width="2.5" stroke-dasharray="7.5 4.4"/>
<g fill="#02C6E0"><path d="M733,738 C745,737 752,737 755,737 C768,737 774,744 774,752 C774,760 770,766 762,772 L750.2,780 L770.8,780 L770.5,792 L728.2,792 L728.5,780.4 L746,763.6 C752,758 753.5,755 753.5,752.5 C753.5,749 750,748.5 747.5,748.5 C742,748.5 736,749 731.6,749.6 Z"/><polygon points="800.3,738.05 816.8,738.05 814.3,792 797.2,792 798.9,752.75 790.5,758 790.85,743.65"/><path fill-rule="evenodd" d="M831.8,754.5 A14,17.2 0 1 0 859.8,754.5 A14,17.2 0 1 0 831.8,754.5 Z M841.2,754.5 A4.7,10.4 0 1 0 850.6,754.5 A4.7,10.4 0 1 0 841.2,754.5 Z"/><path fill-rule="evenodd" d="M873.5,775.7 A14.25,17.2 0 1 0 902,775.7 A14.25,17.2 0 1 0 873.5,775.7 Z M882.8,775.5 A4.7,10.6 0 1 0 892.2,775.5 A4.7,10.6 0 1 0 882.8,775.5 Z"/><polygon points="875.6,738.1 885,738.1 856.9,791.6 848,791.6"/></g>
<rect x="728.2" y="802.6" width="210" height="45.7" rx="4" fill="#00C6E0"/>
<text x="841.4" y="843.5" font-size="46.8" font-weight="bold" fill="#fff" transform="scale(0.8832,1)">H</text>
<text x="793.56" y="843.5" font-size="46.8" font-weight="bold" fill="#fff" transform="scale(0.9791,1)">I</text>
<text x="996.01" y="843.5" font-size="46.8" font-weight="bold" fill="#fff" transform="scale(0.7980,1)">G</text>
<text x="936.51" y="843.5" font-size="46.8" font-weight="bold" fill="#fff" transform="scale(0.8832,1)">H</text>
<text x="1203.69" y="843.5" font-size="46.8" font-weight="bold" fill="#fff" transform="scale(0.7160,1)">E</text>
<text x="1257.44" y="843.5" font-size="46.8" font-weight="bold" fill="#fff" transform="scale(0.7069,1)">R</text>
<text x="764.08" y="889.3" font-size="36.4" font-weight="normal" fill="#1a1a1a" stroke="#1a1a1a" stroke-width="0.3" stroke-linejoin="round" transform="scale(0.9511,1)">Conversion</text>
<text x="1065.23" y="889.3" font-size="36.4" font-weight="normal" fill="#1a1a1a" stroke="#1a1a1a" stroke-width="0.3" stroke-linejoin="round" transform="scale(0.8563,1)">Rate</text>
</svg>
</body></html>
